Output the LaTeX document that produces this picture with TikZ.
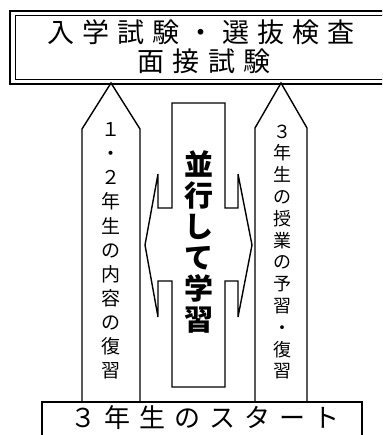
\documentclass[tikz,border=0pt]{standalone}
\usepackage{fontspec}
\usepackage{tikz}
\newfontfamily\jp{Noto Sans CJK JP}
\newfontfamily\jpwide[LetterSpace=30]{Noto Sans CJK JP}
\newfontfamily\jpstart[LetterSpace=34]{Noto Sans CJK JP}
\tikzset{shape line/.style={line width=1.4pt, line join=miter}}

\begin{document}
\begin{tikzpicture}[x=1pt,y=-1pt]
\useasboundingbox (0,0) rectangle (382,435);
\begin{scope}
\clip (0,0) rectangle (382,435);
% top box, double frame
\draw[line width=2.2pt] (10,11) rectangle (395,84);
\draw[line width=0.9pt] (15.5,15.5) rectangle (395,79.5);
\node (Exam) at (201,32) [font={\fontsize{27}{27}\selectfont\jpwide}] {入学試験・選抜検査};
\node (Interview) at (204,61) [font={\fontsize{27}{27}\selectfont\jpwide}] {面接試験};
% arrows going up
\draw[shape line] (82,402) -- (82,129) -- (111,83) -- (140,129) -- (140,402);
\draw[shape line] (255,402) -- (255,128) -- (281,83) -- (307,128) -- (307,402);
\node (Review) at (111,251) [align=center, font={\fontsize{19}{24.1}\selectfont\jp}] {１\\・\\２\\年\\生\\の\\内\\容\\の\\復\\習};
\node (Lesson) at (282,252) [align=center, font={\fontsize{18}{21.8}\selectfont\jp}] {３\\年\\生\\の\\授\\業\\の\\予\\習\\・\\復\\習};
% middle box with double arrow
\draw[shape line] (172,103) -- (225,103) -- (225,208) -- (238,208) -- (238,174) -- (252,245)
  -- (238,317) -- (238,281) -- (225,281) -- (225,387) -- (172,387) -- (172,281) -- (158,281)
  -- (158,317) -- (145,245) -- (158,174) -- (158,208) -- (172,208) -- cycle;
\node (Parallel) at (198.5,242) [align=center, font={\fontsize{29}{31}\selectfont\jp\bfseries}] {並\\行\\し\\て\\学\\習};
% bottom box
\draw[shape line] (42,402) rectangle (362,445);
\node (Start) at (205,418) [font={\fontsize{26}{26}\selectfont\jpstart}] {３年生のスタート};
\end{scope}
\end{tikzpicture}
\end{document}
